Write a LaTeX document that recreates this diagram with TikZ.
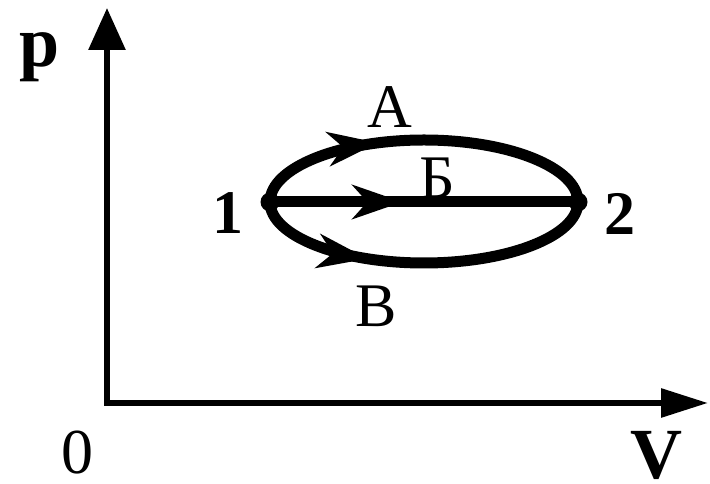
\documentclass[tikz,border=0pt]{standalone}
\usepackage{fontspec}
\setmainfont{Liberation Serif}
\usetikzlibrary{arrows.meta,decorations.markings}
\tikzset{
  axis/.style={line width=6pt,
    {Triangle[length=42pt,width=36pt]}-{Triangle[length=47pt,width=28pt]}},
  process/.style={line width=11pt},
  midarrow/.style={postaction={decorate},decoration={markings,
    mark=at position #1 with {\arrow{Stealth[length=50pt,width=34pt,inset=15pt]}}}},
  statedot/.style={circle,fill,inner sep=0pt,minimum size=19pt},
  bigbold/.style={font=\fontsize{72}{72}\selectfont\bfseries},
  numlabel/.style={font=\fontsize{62}{62}\selectfont\bfseries},
  pathlabel/.style={font=\fontsize{62}{62}\selectfont}
}
\begin{document}
\begin{tikzpicture}[x=1pt,y=1pt]
    \useasboundingbox (0,0) rectangle (710,484);

    % 坐标轴
    \coordinate (O) at (107,81);
    \coordinate (ytip) at (107,476);
    \coordinate (xtip) at (708,81);
    \draw[axis] (ytip) -- (O) -- (xtip);
    \node[bigbold] (plabel) at (40,427) {p};
    \node[bigbold, inner sep=0pt] (vlabel) at (656,29) {V};
    \node[font=\fontsize{64}{64}\selectfont, inner sep=0pt] (zero) at (77,31) {0};

    % 状态 1 和 2
    \node[statedot] (n1) at (270,282) {};
    \node[statedot] (n2) at (578,282) {};
    \node[numlabel] (l1) at (228,271) {1};
    \node[numlabel] (l2) at (620,270) {2};

    % 三条路径
    \draw[process, midarrow=0.37] (n1.center)
        arc[start angle=180, end angle=0, x radius=154, y radius=62];
    \draw[process, midarrow=0.43] (n1.center) -- (n2.center);
    \draw[process, midarrow=0.34] (n1.center)
        arc[start angle=180, end angle=360, x radius=154, y radius=61];
    \node[pathlabel] (pa) at (390,377) {А};
    \node[pathlabel] (pb) at (437,306) {Б};
    \node[pathlabel] (pv) at (376,178) {В};
\end{tikzpicture}
\end{document}
